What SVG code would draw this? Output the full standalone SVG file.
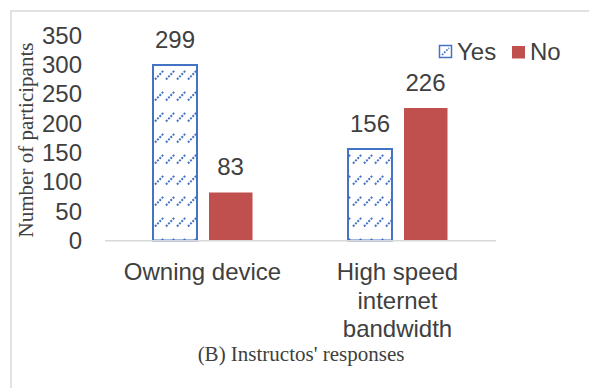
<svg xmlns="http://www.w3.org/2000/svg" width="589" height="388" viewBox="0 0 589 388">
  <style>
    .lbl { font-family: "Liberation Sans", Arial, sans-serif; font-size: 24px; fill: #404040; }
    .tick { text-anchor: end; }
    .mid { text-anchor: middle; }
    .serif { font-family: "Liberation Serif", "Times New Roman", serif; font-size: 21px; fill: #404040; }
    .yes { fill: url(#hatch); stroke: #4472c4; stroke-width: 2; }
    .no { fill: #c0504d; }
  </style>
  <defs>
    <!-- dotted up-right diagonal dashes used for the "Yes" series -->
    <pattern id="hatch" patternUnits="userSpaceOnUse" x="0" y="6" width="11" height="21">
      <rect width="11" height="21" fill="#ffffff"/>
      <line x1="1" y1="10.5" x2="10" y2="1" stroke="#4472c4" stroke-width="2" stroke-dasharray="2 1.3"/>
    </pattern>
  </defs>

  <rect width="589" height="388" fill="#ffffff"/>
  <!-- chart frame -->
  <path d="M11 388 V11 H589" fill="none" stroke="#d9d9d9" stroke-width="1.5"/>

  <!-- y axis title -->
  <text class="serif mid" transform="translate(33 140) rotate(-90)">Number of participants</text>

  <!-- y axis tick labels -->
  <g id="y-axis">
    <text class="lbl tick" x="82" y="249">0</text>
    <text class="lbl tick" x="82" y="219.7">50</text>
    <text class="lbl tick" x="82" y="190.3">100</text>
    <text class="lbl tick" x="82" y="161">150</text>
    <text class="lbl tick" x="82" y="131.6">200</text>
    <text class="lbl tick" x="82" y="102.3">250</text>
    <text class="lbl tick" x="82" y="72.9">300</text>
    <text class="lbl tick" x="82" y="43.6">350</text>
  </g>

  <!-- bars -->
  <g id="owning-yes">
    <rect class="yes" x="153" y="65" width="44" height="175.5"/>
    <text class="lbl mid" x="175" y="48">299</text>
  </g>
  <g id="owning-no">
    <rect class="no" x="209" y="192.5" width="43.5" height="48"/>
    <text class="lbl mid" x="230.5" y="175">83</text>
  </g>
  <g id="bandwidth-yes">
    <rect class="yes" x="348" y="149" width="44" height="91.5"/>
    <text class="lbl mid" x="370" y="132">156</text>
  </g>
  <g id="bandwidth-no">
    <rect class="no" x="404" y="108" width="43.5" height="132.5"/>
    <text class="lbl mid" x="425.5" y="91">226</text>
  </g>

  <!-- baseline -->
  <line x1="105" y1="240.8" x2="496" y2="240.8" stroke="#d9d9d9" stroke-width="1.5"/>

  <!-- category labels -->
  <g id="x-axis">
    <text class="lbl mid" x="202.5" y="280">Owning device</text>
    <text class="lbl mid" x="397.5" y="280">High speed</text>
    <text class="lbl mid" x="397.5" y="308.5">internet</text>
    <text class="lbl mid" x="397.5" y="337">bandwidth</text>
  </g>

  <!-- legend -->
  <g id="legend">
    <rect x="439.5" y="45.5" width="12" height="12" fill="#ffffff" stroke="#4472c4" stroke-width="1.5"/>
    <line x1="442" y1="55" x2="449" y2="48" stroke="#4472c4" stroke-width="1.7" stroke-dasharray="1.8 1.2"/>
    <text class="lbl" x="457" y="59.5">Yes</text>
    <rect x="512" y="46" width="13" height="12.5" fill="#c0504d"/>
    <text class="lbl" x="530" y="59.5">No</text>
  </g>

  <!-- caption -->
  <text class="serif mid" x="301" y="361">(B) Instructos' responses</text>
</svg>
